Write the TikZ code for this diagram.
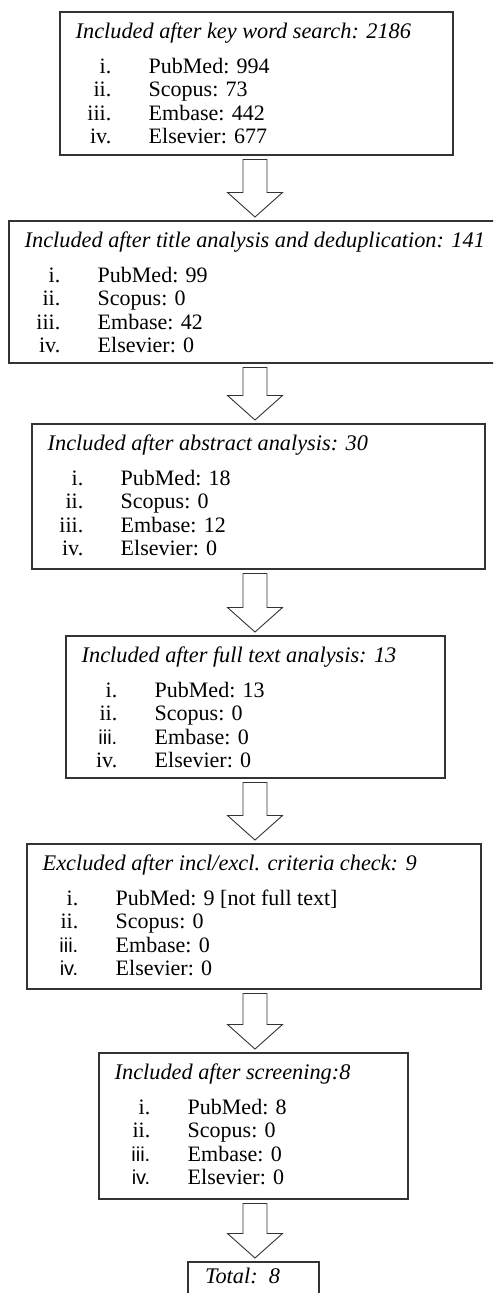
\documentclass[tikz,border=0pt]{standalone}
\usepackage{fontspec}
\setmainfont{Liberation Serif}
\newfontfamily\sansf{Liberation Sans}
\usetikzlibrary{calc}
\tikzset{
  box/.style={draw=black!80, line width=1.3pt, rectangle, inner sep=0pt, outer sep=0pt, anchor=north west},
  ttl/.style={inner sep=0pt, anchor=base west, font=\fontsize{22.3}{26}\selectfont\itshape},
  num/.style={inner sep=0pt, anchor=base east, font=\fontsize{22}{26}\selectfont},
  snum/.style={inner sep=0pt, anchor=base east, font=\fontsize{20}{24}\selectfont\sansf},
  itm/.style={inner sep=0pt, anchor=base west, font=\fontsize{22}{26}\selectfont},
  barrow/.style={draw=black!80, line width=0.9pt, line join=miter, fill=white}
}
% #1 box, #2 index, #3 numeral style, #4 numeral, #5 text
\newcommand\entry[5]{%
  \node[#3] (#1n#2) at ([xshift=51.5pt,yshift={-61.5pt-(#2-1)*23.4pt}]#1.north west) {#4};
  \node[itm] (#1i#2) at ([xshift=88.5pt,yshift={-61.5pt-(#2-1)*23.4pt}]#1.north west) {#5};
}
\newcommand\heading[2]{%
  \node[ttl] (#1t) at ([xshift=15.5pt,yshift=-26.5pt]#1.north west) {#2};
}
\newcommand\blockarrow[2]{%
  \draw[barrow] let \p1=(#1.south), \p2=(#2.north), \p3=(axis) in
    (\x3-12pt,\y1-4.5pt) -- (\x3+12pt,\y1-4.5pt) -- (\x3+12pt,\y2+28.5pt)
    -- (\x3+27.5pt,\y2+28.5pt) -- (\x3,\y2+4pt) -- (\x3-27.5pt,\y2+28.5pt)
    -- (\x3-12pt,\y2+28.5pt) -- cycle;
}
\begin{document}
\begin{tikzpicture}[x=1pt,y=-1pt]
\useasboundingbox (0,0) rectangle (493,1293);
\clip (0,0) rectangle (493,1293);
\fill[white] (0,0) rectangle (493,1293);
\coordinate (axis) at (255,0);

\node[box, minimum width=393pt, minimum height=143pt] (b1) at (60,12) {};
\heading{b1}{Included after key word search: 2186}
\entry{b1}{1}{num}{i.}{PubMed: 994}
\entry{b1}{2}{num}{ii.}{Scopus: 73}
\entry{b1}{3}{num}{iii.}{Embase: 442}
\entry{b1}{4}{num}{iv.}{Elsevier: 677}

\node[box, minimum width=510pt, minimum height=142pt] (b2) at (9,221) {};
\heading{b2}{Included after title analysis and deduplication: 141}
\entry{b2}{1}{num}{i.}{PubMed: 99}
\entry{b2}{2}{num}{ii.}{Scopus: 0}
\entry{b2}{3}{num}{iii.}{Embase: 42}
\entry{b2}{4}{num}{iv.}{Elsevier: 0}

\node[box, minimum width=453pt, minimum height=145pt] (b3) at (32,424) {};
\heading{b3}{Included after abstract analysis: 30}
\entry{b3}{1}{num}{i.}{PubMed: 18}
\entry{b3}{2}{num}{ii.}{Scopus: 0}
\entry{b3}{3}{num}{iii.}{Embase: 12}
\entry{b3}{4}{num}{iv.}{Elsevier: 0}

\node[box, minimum width=379pt, minimum height=142pt] (b4) at (66,636) {};
\heading{b4}{Included after full text analysis: 13}
\entry{b4}{1}{num}{i.}{PubMed: 13}
\entry{b4}{2}{num}{ii.}{Scopus: 0}
\entry{b4}{3}{snum}{iii.}{Embase: 0}
\entry{b4}{4}{num}{iv.}{Elsevier: 0}

\node[box, minimum width=454pt, minimum height=145pt] (b5) at (27,844) {};
\heading{b5}{Excluded after incl/excl. criteria check: 9}
\entry{b5}{1}{num}{i.}{PubMed: 9 [not full text]}
\entry{b5}{2}{num}{ii.}{Scopus: 0}
\entry{b5}{3}{snum}{iii.}{Embase: 0}
\entry{b5}{4}{snum}{iv.}{Elsevier: 0}

\node[box, minimum width=309pt, minimum height=146pt] (b6) at (99,1053) {};
\heading{b6}{Included after screening:8}
\entry{b6}{1}{num}{i.}{PubMed: 8}
\entry{b6}{2}{num}{ii.}{Scopus: 0}
\entry{b6}{3}{snum}{iii.}{Embase: 0}
\entry{b6}{4}{snum}{iv.}{Elsevier: 0}

\node[box, minimum width=131pt, minimum height=50pt] (b7) at (188,1262) {};
\node[ttl] (b7t) at ([xshift=17pt,yshift=-21pt]b7.north west) {Total:\ \ 8};

\blockarrow{b1}{b2}
\blockarrow{b2}{b3}
\blockarrow{b3}{b4}
\blockarrow{b4}{b5}
\blockarrow{b5}{b6}
\blockarrow{b6}{b7}
\end{tikzpicture}
\end{document}
